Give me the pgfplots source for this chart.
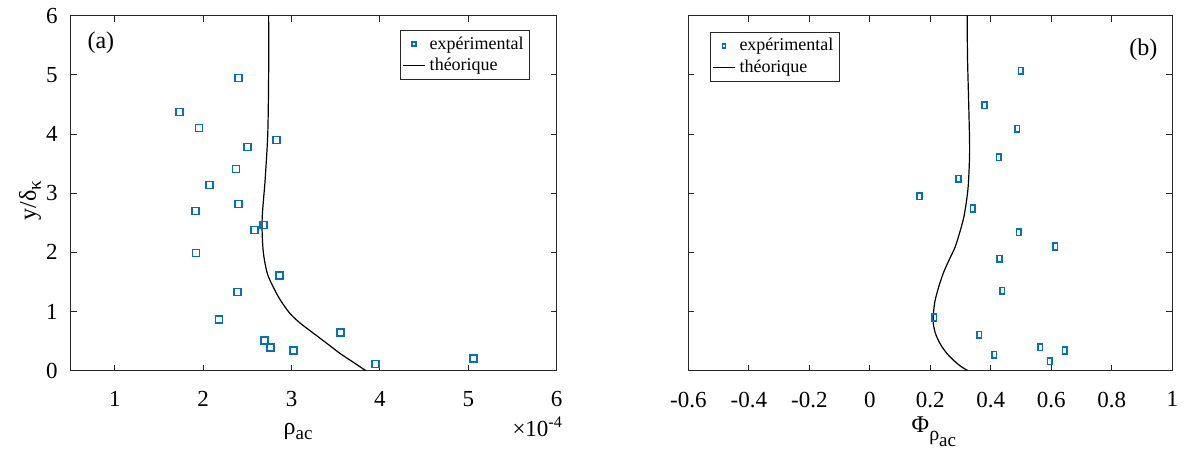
\documentclass[border=0pt]{standalone}
\usepackage{pgfplots}
\pgfplotsset{compat=1.18}
\usepackage{fontspec}
\setmainfont{Liberation Serif}
\definecolor{mblue}{rgb}{0,0.447,0.741}
\definecolor{axgray}{rgb}{0.15,0.15,0.15}
\newcommand\sub[2]{\raisebox{#1}{\fontsize{9.5}{10}\selectfont #2}}
\pgfplotsset{
  mystyle/.style={
    scale only axis, width=243pt, height=177.5pt,
    ymin=0, ymax=6, ytick={0,1,...,6},
    tick align=inside, tick pos=both,
    major tick length=3pt,
    axis line style={draw=axgray, line width=0.5pt},
    tick style={draw=axgray, line width=0.5pt},
    /pgf/number format/assume math mode=true,
    tick label style={font=\fontsize{11.5}{12}\selectfont, text=black},
    xticklabel style={yshift=-7pt},
    yticklabel style={xshift=-3pt},
    label style={font=\fontsize{12}{13}\selectfont},
    legend style={font=\fontsize{9}{10}\selectfont, draw=axgray, line width=0.4pt,
      inner xsep=1pt, inner ysep=1pt, row sep=-1pt, fill=white},
    legend cell align=left,
  },
  linelegend/.style={legend image code/.code={\draw[##1] (0pt,0pt) -- (11pt,0pt);}},
  marklegend/.style={legend image code/.code={\draw[##1, mark size=1pt, line width=0.7pt] plot coordinates {(5.5pt,0pt)};}},
}
\begin{document}
\begin{tikzpicture}
\useasboundingbox (-35.35pt,-43.65pt) rectangle (556.65pt,185.35pt);
% ---------- (a) ----------
\begin{axis}[mystyle, name=a, at={(0pt,0pt)}, anchor=south west,
  xmin=0.5, xmax=6, xtick={1,2,3,4,5,6},
  xlabel={ρ\sub{-2.5pt}{ac}},
  xlabel style={at={(axis description cs:0.5,0)}, anchor=base, yshift=-32pt, xshift=-7.8pt},
  ylabel={y/δ\sub{-2.5pt}{κ}},
  ylabel style={at={(axis description cs:0,0.48)}, anchor=center, yshift=20.3pt},
  legend style={at={(1,1)}, anchor=north east, xshift=-13.3pt, yshift=-7.2pt},
]
\addplot[only marks, mark=square, mark size=1.75pt, mark options={draw=mblue, line width=0.8pt, fill=white}, marklegend]
coordinates {
(2.40,4.95)(1.73,4.37)(1.95,4.10)(2.83,3.90)(2.50,3.78)(2.37,3.41)(2.07,3.14)
(2.40,2.82)(1.91,2.70)(2.68,2.46)(2.58,2.38)(1.92,1.99)(2.86,1.61)(2.39,1.33)
(2.18,0.87)(3.55,0.65)(2.69,0.51)(2.76,0.39)(3.02,0.34)(3.95,0.11)(5.06,0.21)
};
\addlegendentry{expérimental}
\addplot[black, line width=0.6pt, smooth, tension=0.5, linelegend] coordinates {
(3.84,0)(3.69,0.15)(3.55,0.29)(3.40,0.46)(3.25,0.63)(3.10,0.80)(2.98,0.97)
(2.87,1.20)(2.79,1.42)(2.73,1.62)(2.70,1.81)(2.68,2.00)(2.67,2.21)(2.665,2.45)
(2.67,2.66)(2.685,2.95)(2.70,3.22)(2.73,4.0)(2.74,5.0)(2.74,6.0)
};
\addlegendentry{théorique}
\node[font=\fontsize{12}{14}\selectfont] at (rel axis cs:0.062,0.925) {(a)};
\end{axis}
\node[anchor=base east, font=\fontsize{11.5}{12}\selectfont, inner sep=0pt] at ([xshift=3.3pt, yshift=-33pt]a.south east) {×10\textsuperscript{-4}};
% ---------- (b) ----------
\begin{axis}[mystyle, at={(308.8pt,0pt)}, anchor=south west, width=242pt,
  xmin=-0.6, xmax=1, xtick={-0.6,-0.4,-0.2,0,0.2,0.4,0.6,0.8,1},
  yticklabels={},
  xlabel={Φ\raisebox{-4pt}{\fontsize{10}{10}\selectfont ρ\raisebox{-3pt}{\fontsize{9.5}{10}\selectfont ac}}},
  xlabel style={at={(axis description cs:0.5,0)}, anchor=base, yshift=-31pt, xshift=1.8pt},
  legend style={at={(0,1)}, anchor=north west, xshift=10.8pt, yshift=-8pt},
]
\addplot[only marks, mark=square, mark size=1.65pt, mark options={draw=mblue, line width=0.8pt, fill=white, xscale=0.7}, marklegend]
coordinates {
(0.499,5.07)(0.379,4.49)(0.487,4.09)(0.426,3.61)(0.293,3.24)(0.164,2.95)
(0.341,2.74)(0.493,2.34)(0.613,2.10)(0.429,1.89)(0.438,1.35)(0.213,0.90)
(0.362,0.61)(0.563,0.40)(0.644,0.34)(0.411,0.27)(0.595,0.16)
};
\addlegendentry{expérimental}
\addplot[black, line width=0.6pt, smooth, tension=0.5, linelegend] coordinates {
(0.324,0)(0.299,0.08)(0.276,0.18)(0.252,0.31)(0.232,0.46)(0.217,0.63)(0.210,0.80)
(0.211,1.00)(0.216,1.19)(0.228,1.42)(0.243,1.65)(0.262,1.87)(0.282,2.09)
(0.298,2.35)(0.311,2.60)(0.320,2.88)(0.326,3.17)(0.330,3.73)(0.327,4.5)(0.323,5.3)(0.322,6)
};
\addlegendentry{théorique}
\node[font=\fontsize{12}{14}\selectfont] at (rel axis cs:0.94,0.905) {(b)};
\end{axis}
\end{tikzpicture}
\end{document}
